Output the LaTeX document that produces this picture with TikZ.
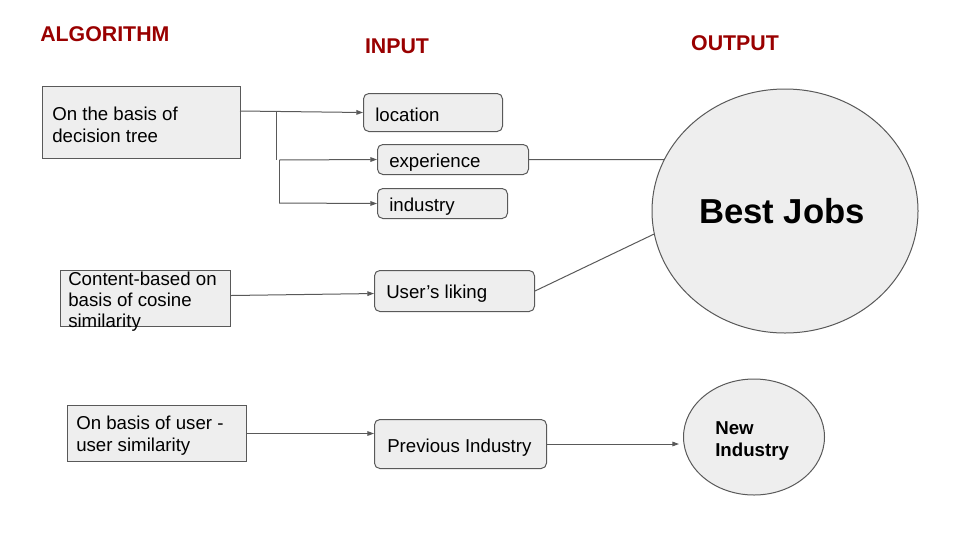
\documentclass[tikz,border=0pt]{standalone}
\usepackage{fontspec}
\setmainfont{Liberation Sans}
\usetikzlibrary{shapes.geometric,arrows.meta}
\definecolor{hdr}{HTML}{990000}
\definecolor{ln}{HTML}{595959}
\definecolor{fl}{HTML}{EEEEEE}
\tikzset{
  sq/.style={draw=ln, fill=fl, line width=0.75pt, anchor=north west, inner sep=0pt},
  rd/.style={sq, rounded corners=4pt},
  ell/.style={ellipse, draw=ln, fill=fl, line width=0.75pt, inner sep=0pt},
  txt/.style={align=left, inner sep=0pt, anchor=west, font=\fontsize{14}{16.5}\selectfont},
  hd/.style={text=hdr, font=\fontsize{16}{19}\selectfont\bfseries, inner sep=0pt},
  con/.style={draw=ln, line width=0.75pt},
  arr/.style={con, -{Triangle[length=5pt,width=3.5pt]}},
}
\begin{document}
\begin{tikzpicture}[x=0.75pt,y=-0.75pt]
\useasboundingbox (0,0) rectangle (960,540);
% headers
\node[hd, anchor=west] (halg) at (40,34) {ALGORITHM};
\node[hd] (hin) at (397,46) {INPUT};
\node[hd] (hout) at (735,43) {OUTPUT};
% algorithm boxes
\node[sq, minimum width=148.5pt, minimum height=54pt] (b1) at (42,86) {};
\node[txt] (b1t) at ([xshift=7.5pt,yshift=-1.5pt]b1.west) {On the basis of\\decision tree};
\node[sq, minimum width=127.5pt, minimum height=42pt] (cb) at (60,270) {};
\node[txt, font=\fontsize{14}{15.75}\selectfont] (cbt) at ([xshift=6pt,yshift=-2.5pt]cb.west) {Content-based on\\basis of cosine\\similarity};
\node[sq, minimum width=134.25pt, minimum height=42pt] (uu) at (67,405) {};
\node[txt] (uut) at ([xshift=6.75pt,yshift=-1.5pt]uu.west) {On basis of user -\\user similarity};
% input boxes
\node[rd, minimum width=104.25pt, minimum height=28.5pt] (loc) at (363,93) {};
\node[txt] (loct) at ([xshift=9pt,yshift=-1.5pt]loc.west) {location};
\node[rd, minimum width=113.25pt, minimum height=22.5pt] (exp) at (377,144) {};
\node[txt] (expt) at ([xshift=9pt,yshift=-2.25pt]exp.west) {experience};
\node[rd, minimum width=97.5pt, minimum height=22.5pt] (ind) at (377,188) {};
\node[txt] (indt) at ([xshift=9pt,yshift=-2.25pt]ind.west) {industry};
\node[rd, minimum width=120pt, minimum height=30.75pt] (ul) at (374,270) {};
\node[txt] (ult) at ([xshift=9pt,yshift=-2.25pt]ul.west) {User’s liking};
\node[rd, minimum width=129pt, minimum height=36.75pt] (pi) at (374,419) {};
\node[txt] (pit) at ([xshift=9.75pt,yshift=-2.6pt]pi.west) {Previous Industry};
% outputs
\node[ell, minimum width=199.5pt, minimum height=183pt] (best) at (785,211) {};
\node[inner sep=0pt, font=\fontsize{26}{30}\selectfont\bfseries] (bestt) at (782,211) {Best Jobs};
\node[ell, minimum width=105.75pt, minimum height=87pt] (ni) at (754,437) {};
\node[txt, font=\fontsize{14}{16.5}\selectfont\bfseries] (nit) at (715,441) {New\\Industry};
% connectors
\coordinate (j1) at (276,111);
\coordinate (j2) at (276,160);
\coordinate (j3) at (279,160);
\coordinate (j4) at (279,203);
\coordinate (s1) at (240,111);
\draw[arr] (s1) -- (loc.west);
\draw[con] (j1) -- (j2);
\draw[con] (j3) -- (j4);
\draw[arr] (j3) -- (exp.west);
\draw[arr] (j4) -- (ind.west);
\draw[con] (exp.east) -- (best.157);
\draw[con] (ul.east) -- (best.190);
\draw[arr] ([yshift=2.25pt]cb.east) -- ([yshift=-1.9pt]ul.west);
\draw[arr] (uu.east) -- (uu.east -| pi.west);
\draw[arr, shorten >=3pt] (pi.east) -- (pi.east -| ni.west);
\end{tikzpicture}
\end{document}
